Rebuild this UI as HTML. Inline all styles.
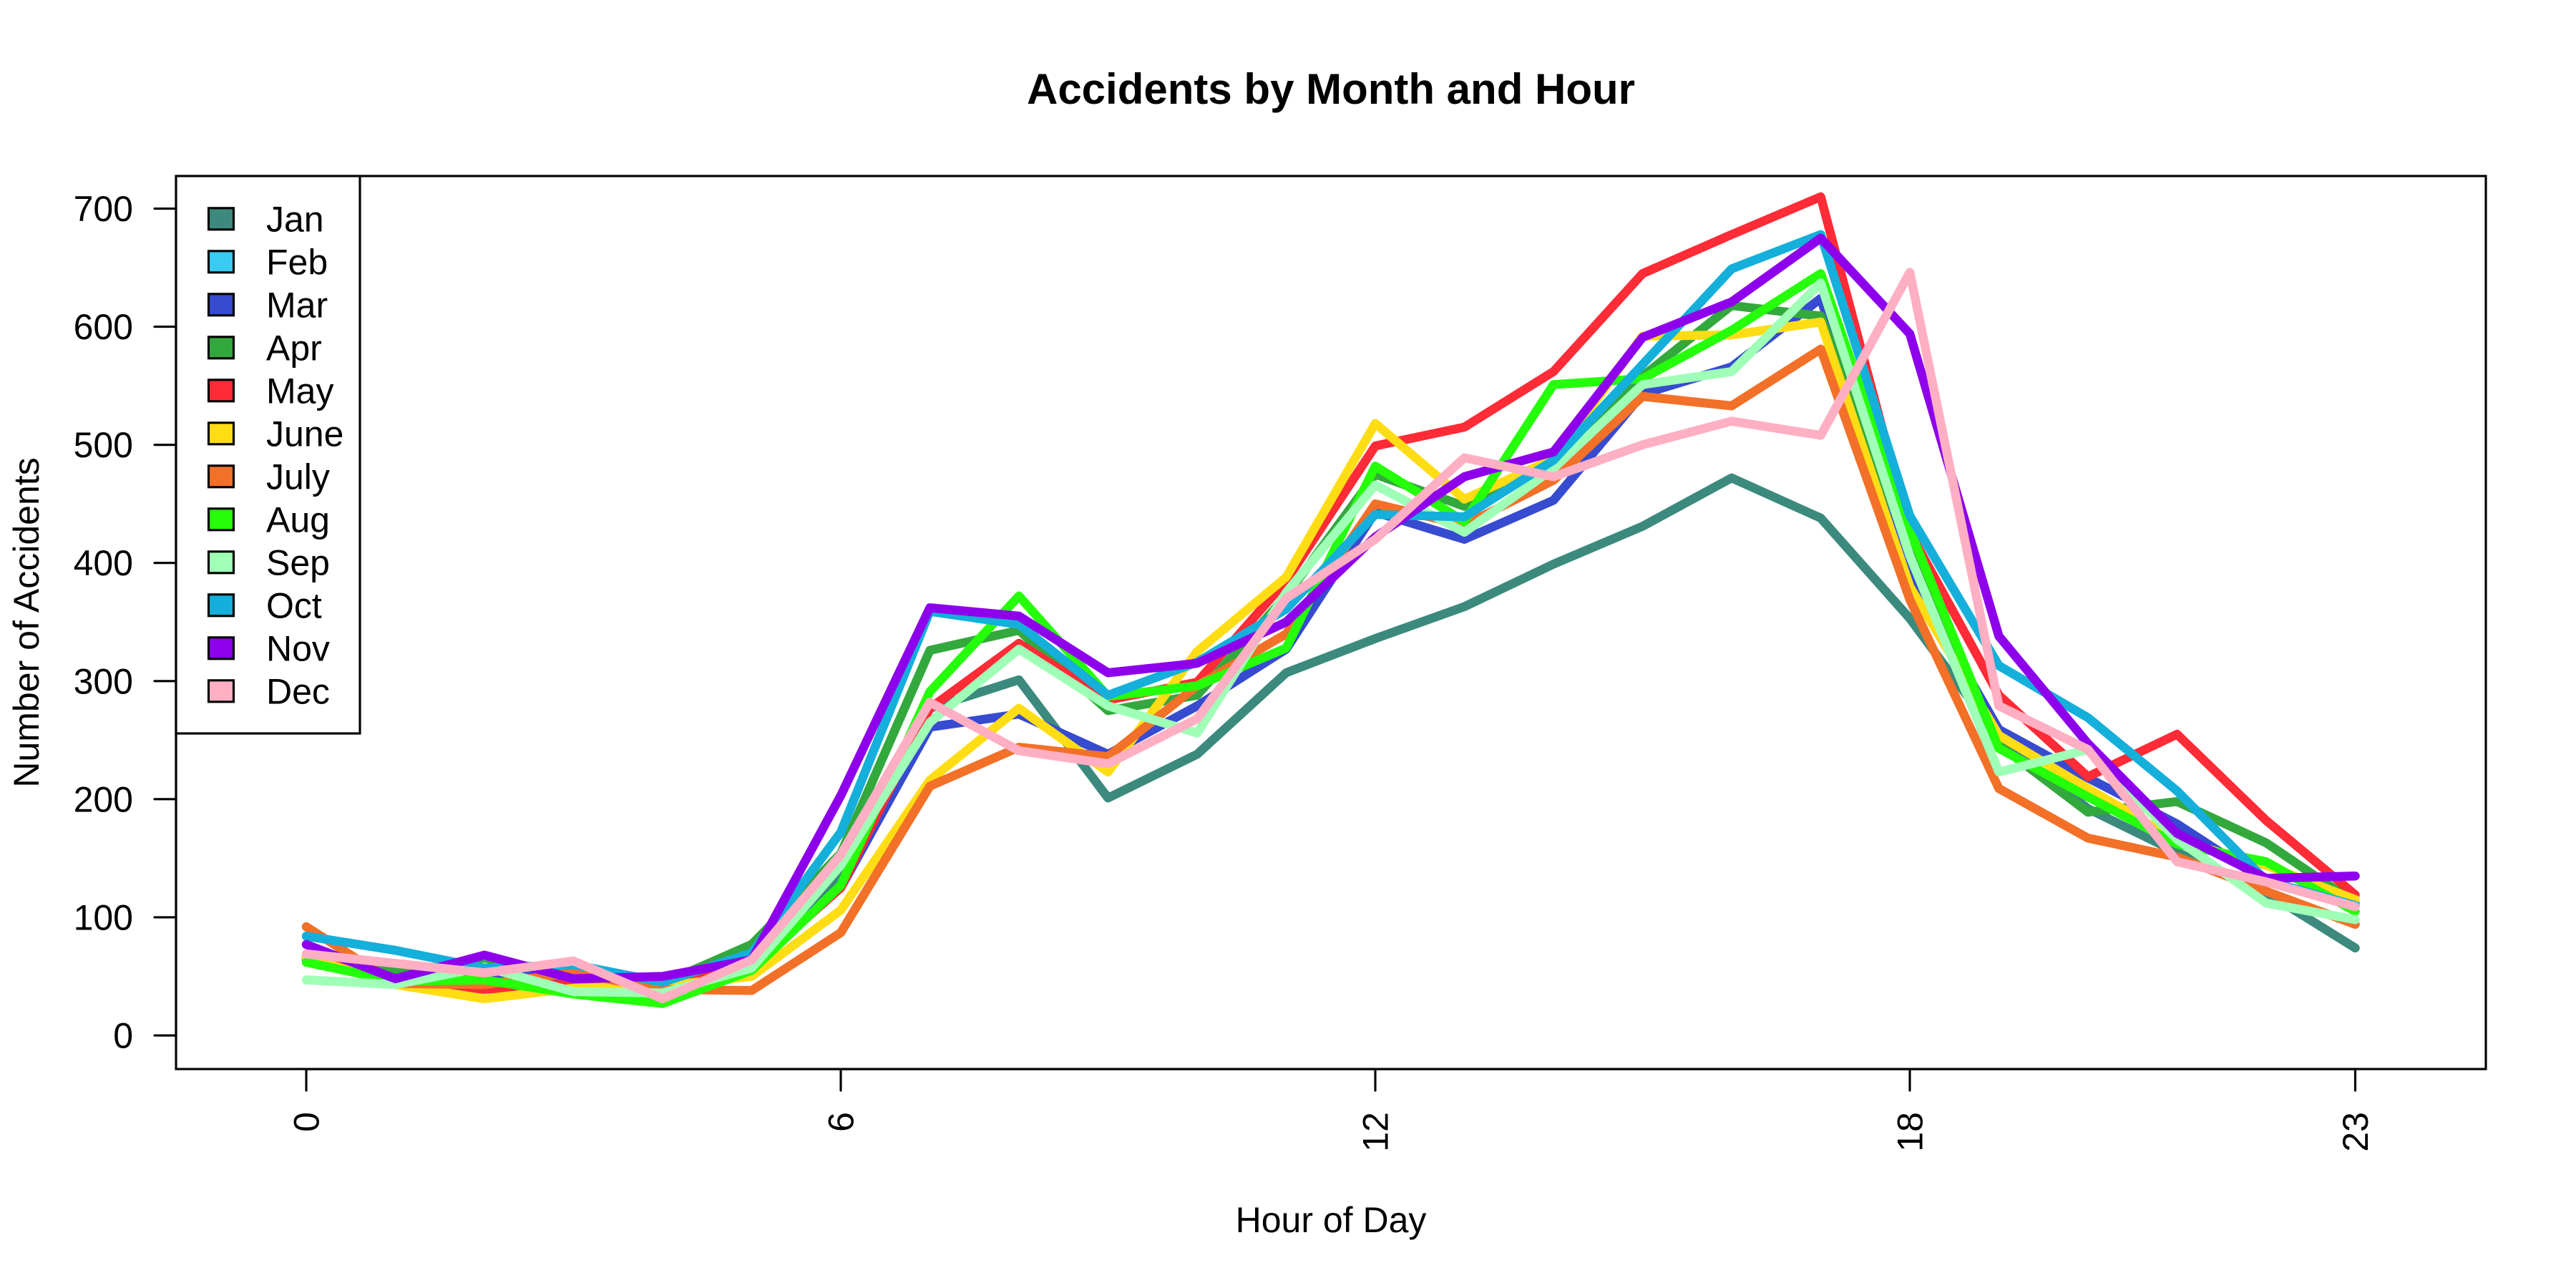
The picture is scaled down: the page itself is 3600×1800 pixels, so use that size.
<!DOCTYPE html>
<html lang="en">
<head>
<meta charset="utf-8">
<title>Accidents by Month and Hour</title>
<style>
html,body{margin:0;padding:0;background:#fff;}
svg{display:block;}
text{font-family:"Liberation Sans",sans-serif;fill:#000;}
</style>
</head>
<body>
<svg id="chart" xmlns="http://www.w3.org/2000/svg" width="3600" height="1800" viewBox="0 0 3600 1800">
  <rect x="0" y="0" width="3600" height="1800" fill="#fff"/>
  <text x="1860" y="145" text-anchor="middle" font-size="60" font-weight="bold">Accidents by Month and Hour</text>
  <text x="1860" y="1722" text-anchor="middle" font-size="50">Hour of Day</text>
  <text transform="translate(54,870) rotate(-90)" text-anchor="middle" font-size="50">Number of Accidents</text>
  <g id="series-layer"></g>
  <g id="axis-layer"></g>
  <g id="legend-layer"></g>
</svg>
<script>
const hours = [0,1,2,3,4,5,6,7,8,9,10,11,12,13,14,15,16,17,18,19,20,21,22,23];
const xTickValues = [0,6,12,18,23];
const yTickValues = [0,100,200,300,400,500,600,700];
const monthNames = ["Jan","Feb","Mar","Apr","May","June","July","Aug","Sep","Oct","Nov","Dec"];
const monthColors = ["#3b8a7d","#38ccf2","#374bd0","#33a83d","#ff2b36","#ffdd14","#f27027","#25ff0a","#9fffb7","#14afda","#8e00ec","#ffafc3"];

const janValues = [65,52,55,56,44,68,135,277,301,201,238,307,336,363,399,431,472,438,353,251,192,155,121,74];
/* Feb appears in the legend but no Feb line is visible in the plot. */
const febValues = [];
const marValues = [64,50,52,48,42,62,125,261,272,238,279,327,443,420,453,543,566,624,390,259,218,179,130,110];
const aprValues = [66,56,60,55,44,77,154,326,343,275,288,372,475,448,482,558,618,609,410,246,189,198,163,112];
const mayValues = [66,46,39,44,43,58,125,277,332,284,299,385,499,515,562,645,678,710,426,288,219,255,182,119];
const juneValues = [66,43,31,40,42,50,106,216,277,223,325,388,518,454,488,592,593,604,380,254,209,165,144,115];
const julyValues = [92,44,43,53,39,38,87,211,244,236,296,340,450,432,470,541,533,581,369,209,167,151,122,94];
const augValues = [62,46,47,35,27,55,127,291,372,287,296,328,482,435,551,556,597,645,428,243,202,162,147,105];
const sepValues = [47,43,58,37,36,57,144,265,327,279,256,375,466,426,480,551,562,637,406,223,242,166,112,98];
const octValues = [84,72,57,60,45,70,172,359,348,288,316,361,441,439,487,568,649,678,440,313,269,207,131,110];
const novValues = [77,48,68,48,50,64,203,362,355,307,315,350,422,473,494,591,621,675,594,338,247,171,133,135];
const decValues = [69,61,53,63,31,64,153,282,241,230,268,370,420,489,473,500,520,508,646,279,242,147,130,109];

const allSeries = [janValues,febValues,marValues,aprValues,mayValues,juneValues,julyValues,augValues,sepValues,octValues,novValues,decValues];

const NS = "http://www.w3.org/2000/svg";
const plotLeft = 246, plotRight = 3474, plotTop = 246, plotBottom = 1494;
function xScale(h){ return 428 + h * 124.5; }
function yScale(v){ return 1447 - v * 1.6507; }
function make(tag, attrs, parent){
  const node = document.createElementNS(NS, tag);
  for (const key in attrs) node.setAttribute(key, attrs[key]);
  parent.appendChild(node);
  return node;
}

const seriesLayer = document.getElementById("series-layer");
allSeries.forEach(function(values, s){
  if (!values.length) return;
  const pts = values.map(function(v, i){ return xScale(hours[i]).toFixed(1) + "," + yScale(v).toFixed(1); }).join(" ");
  const line = make("polyline", {points: pts, fill: "none", stroke: monthColors[s], "stroke-width": 12.5, "stroke-linejoin": "round", "stroke-linecap": "round"}, seriesLayer);
  
  
});

const axisLayer = document.getElementById("axis-layer");
const lineStyle = {stroke: "#000", "stroke-width": 3.125, fill: "none", "stroke-linecap": "round"};
const frame = make("rect", Object.assign({x: plotLeft, y: plotTop, width: plotRight - plotLeft, height: plotBottom - plotTop}, lineStyle), axisLayer);



const xAxisLine = make("line", Object.assign({x1: xScale(xTickValues[0]), x2: xScale(xTickValues[xTickValues.length - 1]), y1: plotBottom, y2: plotBottom}, lineStyle), axisLayer);



const yAxisLine = make("line", Object.assign({x1: plotLeft, x2: plotLeft, y1: yScale(yTickValues[0]), y2: yScale(yTickValues[yTickValues.length - 1])}, lineStyle), axisLayer);



xTickValues.forEach(function(t){
  const px = xScale(t);
  const tick = make("line", Object.assign({x1: px, x2: px, y1: plotBottom, y2: plotBottom + 30}, lineStyle), axisLayer);
  
  
  const label = make("text", {transform: "translate(" + (px + 17.5) + ",1554) rotate(-90)", "text-anchor": "end", "font-size": 50}, axisLayer);
  label.textContent = String(t);
  
  
});

yTickValues.forEach(function(t){
  const py = yScale(t);
  const tick = make("line", Object.assign({x1: plotLeft - 30, x2: plotLeft, y1: py, y2: py}, lineStyle), axisLayer);
  
  
  const label = make("text", {x: 186, y: py + 17.5, "text-anchor": "end", "font-size": 50}, axisLayer);
  label.textContent = String(t);
  
  
});

const legendLayer = document.getElementById("legend-layer");
const legendBox = make("rect", {x: plotLeft, y: plotTop, width: 257, height: 779, fill: "#fff", stroke: "#000", "stroke-width": 3.125}, legendLayer);



monthNames.forEach(function(name, i){
  const cy = 305.8 + i * 60;
  const swatch = make("rect", {x: 291.5, y: cy - 15, width: 35, height: 30, fill: monthColors[i], stroke: "#000", "stroke-width": 3.125}, legendLayer);
  
  
  const label = make("text", {x: 372, y: cy + 17.5, "font-size": 50}, legendLayer);
  label.textContent = name;
  
  
});
</script>
</body>
</html>
